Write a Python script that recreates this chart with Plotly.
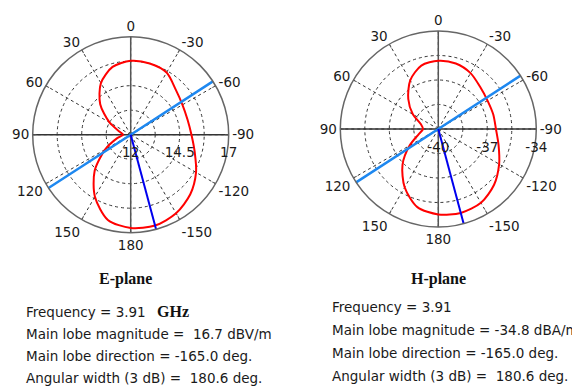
import plotly.graph_objects as go

# ---- data ----
angles = [0, 15, 30, 45, 60, 75, 90, 105, 120, 135, 150, 165, 180,
          -165, -150, -135, -120, -105, -90, -75, -60, -45, -30, -15]
e_plane_r = [15.77, 15.58, 15.04, 14.2, 13.25, 12.58, 12.39, 12.73, 13.5, 14.6, 15.65, 16.5, 16.76,
             16.8, 16.63, 16.3, 15.85, 15.38, 15.1, 15.0, 15.05, 15.25, 15.66, 15.76]
h_plane_r = [-35.82, -35.98, -36.56, -37.4, -38.2, -38.9, -39.06, -38.75, -37.97, -36.9, -35.88, -35.05, -34.77,
             -34.68, -34.78, -35.17, -35.7, -36.18, -36.47, -36.52, -36.52, -36.37, -36.05, -35.85]

e_range = [12, 17]
e_tickvals = [12, 13.25, 14.5, 15.75, 17]
e_ticktext = ["12", "", "14.5", "", "17"]
h_range = [-40, -34]
h_tickvals = [-40, -38.5, -37, -35.5, -34]
h_ticktext = ["-40", "", "-37", "", "-34"]

main_lobe_dir = -165
width_line_dir = [-57, 123]

ang_tickvals = [0, 30, 60, 90, 120, 150, 180, 210, 240, 270, 300, 330]
ang_ticktext = ["0", "30", "60", "90", "120", "150", "180", "-150", "-120", "-90", "-60", "-30"]

left_lines = ["Frequency = 3.91",
              "Main lobe magnitude =\u00a0 16.7 dBV/m",
              "Main lobe direction = -165.0 deg.",
              "Angular width (3 dB) =\u00a0 180.6 deg."]
right_lines = ["Frequency = 3.91",
               "Main lobe magnitude = -34.8 dBA/m",
               "Main lobe direction = -165.0 deg.",
               "Angular width (3 dB) =\u00a0 180.6 deg."]

# page body has an 8px margin; figure is sized to fill the rest of the window
OFF = 8
W, H = 580 - OFF, 388 - OFF


def px(x):
    return (x - OFF) / W


def py(y):
    return 1 - (y - OFF) / H


fig = go.Figure()


def add_plane(sub, rvals, rng):
    rmin, rmax = rng
    fig.add_trace(go.Scatterpolar(r=[rmax, rmin, rmax], theta=[0, 0, 180], mode="lines",
                                  line=dict(color="#555555", width=1.5), subplot=sub,
                                  showlegend=False, hoverinfo="skip"))
    fig.add_trace(go.Scatterpolar(r=[rmax, rmin, rmax], theta=[90, 90, 270], mode="lines",
                                  line=dict(color="#333333", width=1.5), subplot=sub,
                                  showlegend=False, hoverinfo="skip"))
    fig.add_trace(go.Scatterpolar(r=rvals + rvals[:1], theta=angles + angles[:1], mode="lines",
                                  line=dict(color="#ff0000", width=2, shape="spline", smoothing=0.8),
                                  subplot=sub, showlegend=False))
    fig.add_trace(go.Scatterpolar(r=[rmax, rmin, rmax],
                                  theta=[width_line_dir[0], width_line_dir[0], width_line_dir[1]],
                                  mode="lines", line=dict(color="#1e88f0", width=2.5),
                                  subplot=sub, showlegend=False))
    fig.add_trace(go.Scatterpolar(r=[rmin, rmax], theta=[main_lobe_dir, main_lobe_dir], mode="lines",
                                  line=dict(color="#0000ee", width=2), subplot=sub, showlegend=False))


add_plane("polar", e_plane_r, e_range)
add_plane("polar2", h_plane_r, h_range)

tickfont = dict(family="DejaVu Sans", size=13.5, color="#1a1a1a")


def polar_layout(domx, domy, rng, tv, tt):
    return dict(
        domain=dict(x=domx, y=domy),
        bgcolor="white",
        radialaxis=dict(range=rng, tickmode="array", tickvals=tv, ticktext=tt, angle=0,
                        showline=False, ticks="outside", ticklen=6, tickcolor="rgba(0,0,0,0)",
                        tickfont=tickfont,
                        gridcolor="#333333", griddash="3px,3px", gridwidth=1),
        angularaxis=dict(rotation=90, direction="counterclockwise", tickmode="array",
                         tickvals=ang_tickvals, ticktext=ang_ticktext, tickfont=tickfont,
                         showline=True, linecolor="#666666", linewidth=1.5,
                         ticks="inside", ticklen=3, tickcolor="#555555",
                         gridcolor="#333333", griddash="3px,3px", gridwidth=1),
    )


fig.update_layout(
    width=W, height=H,
    margin=dict(l=0, r=0, t=0, b=0),
    paper_bgcolor="white", plot_bgcolor="white",
    polar=polar_layout([px(32.7), px(228.7)], [py(232.7), py(36.7)], e_range, e_tickvals, e_ticktext),
    polar2=polar_layout([px(340.3), px(536.3)], [py(227), py(31)], h_range, h_tickvals, h_ticktext),
)

txtfont = dict(family="DejaVu Sans", size=13.5, color="#1a1a1a")
titlefont = dict(family="Liberation Serif", size=16, color="#111111")

annotations = []
annotations.append(dict(text="<b>E-plane</b>", x=px(125), y=py(279), xref="paper", yref="paper",
                        xanchor="center", yanchor="middle", showarrow=False, font=titlefont))
annotations.append(dict(text="<b>H-plane</b>", x=px(438), y=py(279), xref="paper", yref="paper",
                        xanchor="center", yanchor="middle", showarrow=False, font=titlefont))
left_y = [310, 332.5, 354, 376.5]
right_y = [305, 328, 351, 374]
for t, yy in zip(left_lines, left_y):
    annotations.append(dict(text=t, x=px(24), y=py(yy + 1.5), xref="paper", yref="paper",
                            xanchor="left", yanchor="middle", showarrow=False, font=txtfont))
for t, yy in zip(right_lines, right_y):
    annotations.append(dict(text=t, x=px(330), y=py(yy + 1.5), xref="paper", yref="paper",
                            xanchor="left", yanchor="middle", showarrow=False, font=txtfont))
annotations.append(dict(text="<b>GHz</b>", x=px(155), y=py(left_y[0] + 1.5), xref="paper", yref="paper",
                        xanchor="left", yanchor="middle", showarrow=False, font=titlefont))
fig.update_layout(annotations=annotations)

fig.write_html("out.html")
